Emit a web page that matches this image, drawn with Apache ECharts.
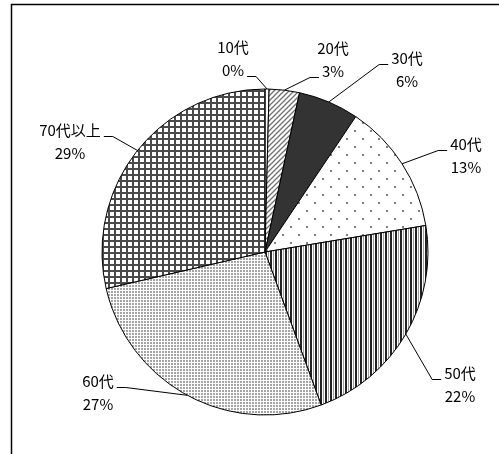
<!DOCTYPE html>
<html>
<head>
<meta charset="utf-8">
<script src="https://cdn.jsdelivr.net/npm/echarts@6/dist/echarts.min.js"></script>
<style>
  html, body { margin: 0; padding: 0; background: #fff; }
  #main { width: 499px; height: 454px; }
</style>
</head>
<body>
<div id="main"></div>
<script>
// age groups and share (%)
const ageGroups = ['10代', '20代', '30代', '40代', '50代', '60代', '70代以上'];
const shares = [0.4, 3, 6, 13, 22, 27, 28.6];

// where the Excel chart put each label (block centre, px) - styling only
const labelSpots = [
  [233, 59], [333, 60], [407, 70], [466, 156], [460, 385], [98, 393], [70, 142],
];
// which text line the leader line hooks onto (0 = name, 1 = percent)
const hookLine = [1, 1, 0, 0, 0, 0, 0];

const labelFont = '15px "Noto Sans CJK JP"';
const lineGap = 23;

const measureCtx = document.createElement('canvas').getContext('2d');
measureCtx.font = labelFont;
const textWidth = (s) => measureCtx.measureText(s).width;

// small canvas tiles used as fill patterns (Excel-style monochrome)
const makeTile = (w, h, draw) => {
  const c = document.createElement('canvas');
  c.width = w;
  c.height = h;
  const ctx = c.getContext('2d');
  ctx.fillStyle = '#fff';
  ctx.fillRect(0, 0, w, h);
  draw(ctx);
  return { image: c, repeat: 'repeat' };
};

const hatch = makeTile(5, 5, (ctx) => {
  ctx.strokeStyle = '#707070';
  ctx.lineWidth = 1.3;
  ctx.beginPath();
  ctx.moveTo(-1, 6); ctx.lineTo(6, -1);
  ctx.moveTo(-4, 4); ctx.lineTo(4, -4);
  ctx.moveTo(1, 9); ctx.lineTo(9, 1);
  ctx.stroke();
});

const sparseDots = makeTile(16, 16, (ctx) => {
  ctx.fillStyle = '#808080';
  ctx.fillRect(2, 2, 2, 2);
  ctx.fillRect(10, 10, 2, 2);
});

const stripes = makeTile(5, 5, (ctx) => {
  ctx.fillStyle = '#222';
  ctx.fillRect(0, 0, 2, 5);
  ctx.fillStyle = '#a0a0a0';
  ctx.fillRect(3, 0, 1, 5);
});

const fineDots = makeTile(3, 3, (ctx) => {
  ctx.fillStyle = '#a4a4a4';
  ctx.fillRect(0, 0, 2, 2);
});

const grid = makeTile(6, 6, (ctx) => {
  ctx.fillStyle = '#4a4a4a';
  ctx.fillRect(0, 0, 6, 2);
  ctx.fillRect(0, 0, 2, 6);
});

const fills = ['#fff', hatch, '#333', sparseDots, stripes, fineDots, grid];

const total = shares.reduce((a, b) => a + b, 0);
const pctText = shares.map((v) => Math.round((v / total) * 100) + '%');

const myChart = echarts.init(document.getElementById('main'));

const option = {
  animation: false,
  graphic: [{
    type: 'rect',
    shape: { x: 11.5, y: 4.5, width: 520, height: 520 },
    style: { fill: null, stroke: '#000', lineWidth: 1.5 },
    silent: true,
  }],
  series: [{
    type: 'pie',
    center: [265, 252],
    radius: 163,
    startAngle: 90,
    clockwise: true,
    percentPrecision: 0,
    avoidLabelOverlap: false,
    data: ageGroups.map((name, i) => ({
      name,
      value: shares[i],
      itemStyle: { color: fills[i] },
    })),
    itemStyle: { borderColor: '#000', borderWidth: 1 },
    label: {
      show: true,
      position: 'outside',
      formatter: '{b}\n{d}%',
      color: '#000',
      fontFamily: 'Noto Sans CJK JP',
      fontSize: 15,
      lineHeight: lineGap,
    },
    labelLine: {
      show: true,
      length: 12,
      length2: 8,
      lineStyle: { color: '#000', width: 1 },
    },
    labelLayout: (params) => {
      const i = params.dataIndex;
      const [cx, cy] = labelSpots[i];
      // edge point on the rim at the slice's mid angle, as echarts laid it out
      const edge = params.labelLinePoints[0];
      const hook = hookLine[i];
      const txt = hook === 0 ? ageGroups[i] : pctText[i];
      const half = textWidth(txt) / 2;
      const ay = cy + (hook === 0 ? -lineGap / 2 : lineGap / 2) + 6;
      const toRight = cx < edge[0];
      const sx = toRight ? cx + half + 3 : cx - half - 3;
      const ex = toRight ? sx + 9 : sx - 9;
      return {
        x: cx,
        y: cy,
        align: 'center',
        verticalAlign: 'middle',
        labelLinePoints: [edge, [ex, ay], [sx, ay]],
      };
    },
  }],
};

myChart.setOption(option);
</script>
</body>
</html>
